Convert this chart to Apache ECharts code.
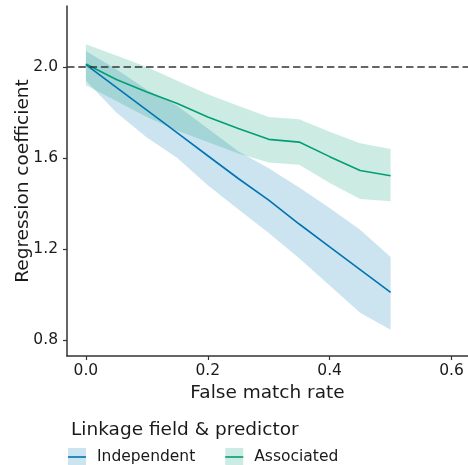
<!DOCTYPE html>
<html>
<head>
<meta charset="utf-8">
<script src="https://cdn.jsdelivr.net/npm/echarts@6/dist/echarts.min.js"></script>
<style>
  html, body { margin: 0; padding: 0; background: #fff; }
  #chart { width: 468px; height: 465px; }
</style>
</head>
<body>
<div id="chart"></div>
<script>
// values
var rates = [0, 0.05, 0.1, 0.15, 0.2, 0.25, 0.3, 0.35, 0.4, 0.45, 0.5];
var indepMean = [2.01, 1.91, 1.81, 1.71, 1.61, 1.51, 1.415, 1.31, 1.21, 1.11, 1.01];
var indepLow = [1.94, 1.80, 1.69, 1.60, 1.48, 1.375, 1.27, 1.16, 1.04, 0.92, 0.845];
var indepHigh = [2.07, 1.99, 1.90, 1.83, 1.73, 1.63, 1.555, 1.47, 1.38, 1.285, 1.165];
var assocMean = [2.013, 1.945, 1.89, 1.84, 1.78, 1.73, 1.682, 1.67, 1.606, 1.545, 1.522];
var assocLow = [1.92, 1.85, 1.78, 1.72, 1.67, 1.62, 1.58, 1.57, 1.49, 1.42, 1.41];
var assocHigh = [2.10, 2.05, 2.00, 1.94, 1.88, 1.83, 1.78, 1.77, 1.715, 1.665, 1.64];
var xTicks = [0, 0.2, 0.4, 0.6];
var yTicks = [0.8, 1.2, 1.6, 2.0];
var refValue = 2.0;
var groups = ['Independent', 'Associated'];

var blue = '#0173b2';
var green = '#029e73';
var blueFill = 'rgba(1,115,178,0.2)';
var greenFill = 'rgba(2,158,115,0.2)';
var ink = '#1a1a1a';
var font = 'DejaVu Sans';

var myChart = echarts.init(document.getElementById('chart'));

function pairs(ys) {
  return rates.map(function (x, i) { return [x, ys[i]]; });
}

// confidence band drawn as one polygon through the axis scales
function band(name, low, high, fill) {
  return {
    name: name,
    type: 'custom',
    silent: true,
    z: 1,
    itemStyle: { color: fill },
    encode: { x: 0, y: [1, 2] },
    data: rates.map(function (x, i) { return [x, low[i], high[i]]; }),
    renderItem: function (params, api) {
      if (params.dataIndex !== 0) return;
      var pts = [];
      for (var i = 0; i < rates.length; i++) pts.push(api.coord([rates[i], high[i]]));
      for (var j = rates.length - 1; j >= 0; j--) pts.push(api.coord([rates[j], low[j]]));
      return { type: 'polygon', shape: { points: pts }, style: { fill: fill } };
    }
  };
}

var legendText = { fontFamily: font, fontSize: 15.5, color: ink, padding: [0, 0, 0, 6] };

var option = {
  animation: false,
  backgroundColor: '#fff',
  title: {
    text: 'Linkage field & predictor',
    left: 66,
    top: 416,
    textStyle: { fontFamily: font, fontSize: 18.5, fontWeight: 'normal', color: ink }
  },
  legend: [
    {
      // shaded swatches behind the line keys (text hidden, same layout)
      left: 68,
      top: 448,
      padding: 0,
      itemWidth: 18,
      itemHeight: 17,
      itemGap: 30,
      selectedMode: false,
      data: groups.map(function (g) { return { name: g + ' band', icon: 'rect' }; }),
      formatter: function (name) { return name.replace(' band', ''); },
      textStyle: Object.assign({}, legendText, { color: 'rgba(0,0,0,0)' })
    },
    {
      left: 68,
      top: 449,
      padding: 0,
      z: 5,
      itemWidth: 18,
      itemHeight: 1.6,
      itemGap: 30,
      selectedMode: false,
      data: groups.map(function (g) { return { name: g, icon: 'rect' }; }),
      textStyle: legendText
    }
  ],
  grid: { left: 67, right: 0, top: 6, bottom: 109, containLabel: false, outerBoundsMode: 'none' },
  xAxis: {
    type: 'value',
    min: -0.031,
    max: 0.627,
    name: 'False match rate',
    nameLocation: 'middle',
    nameGap: 22,
    nameTextStyle: { fontFamily: font, fontSize: 18.5, color: ink },
    splitLine: { show: false },
    axisLine: { show: true, onZero: false, lineStyle: { color: '#333', width: 1.5 } },
    axisTick: { show: true, length: 4, customValues: xTicks, lineStyle: { color: '#333', width: 1.2 } },
    axisLabel: {
      customValues: xTicks,
      margin: 7,
      fontFamily: font,
      fontSize: 15.5,
      color: ink,
      formatter: function (v) { return v.toFixed(1); }
    }
  },
  yAxis: {
    type: 'value',
    min: 0.73,
    max: 2.268,
    name: 'Regression coefficient',
    nameLocation: 'middle',
    nameGap: 34,
    nameMoveOverlap: false,
    nameTextStyle: { fontFamily: font, fontSize: 18.5, color: ink },
    splitLine: { show: false },
    axisLine: { show: true, onZero: false, lineStyle: { color: '#333', width: 1.5 } },
    axisTick: { show: true, length: 4, customValues: yTicks, lineStyle: { color: '#333', width: 1.2 } },
    axisLabel: {
      customValues: yTicks,
      margin: 9,
      fontFamily: font,
      fontSize: 15.5,
      color: ink,
      formatter: function (v) { return v.toFixed(1); }
    }
  },
  series: [
    band('Independent band', indepLow, indepHigh, blueFill),
    band('Associated band', assocLow, assocHigh, greenFill),
    {
      name: 'Independent',
      type: 'line',
      data: pairs(indepMean),
      symbol: 'none',
      z: 3,
      itemStyle: { color: blue },
      lineStyle: { color: blue, width: 1.6 },
      markLine: {
        silent: true,
        symbol: 'none',
        label: { show: false },
        lineStyle: { color: '#333', width: 1.5, type: [7.5, 3.8] },
        data: [{ yAxis: refValue }]
      }
    },
    {
      name: 'Associated',
      type: 'line',
      data: pairs(assocMean),
      symbol: 'none',
      z: 3,
      itemStyle: { color: green },
      lineStyle: { color: green, width: 1.6 }
    }
  ]
};

myChart.setOption(option);
window.addEventListener('resize', myChart.resize);
</script>
</body>
</html>
